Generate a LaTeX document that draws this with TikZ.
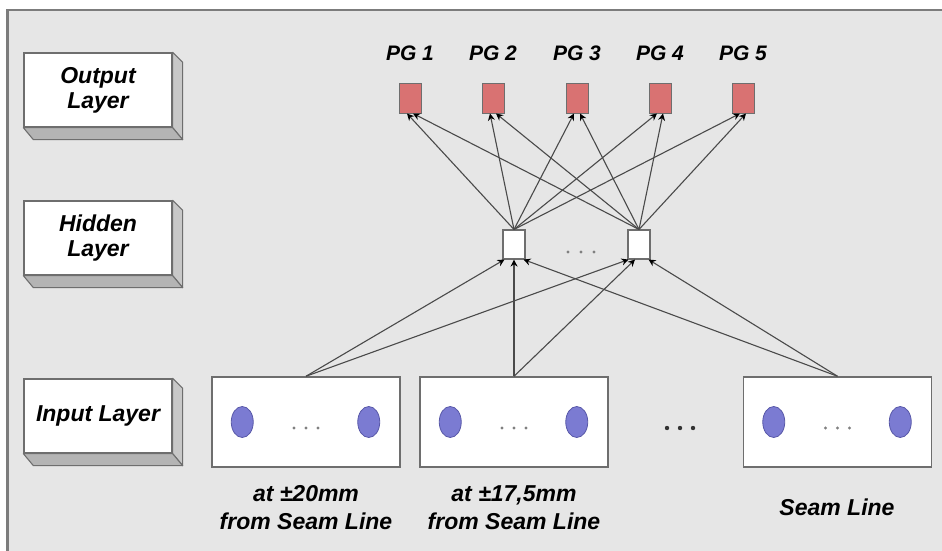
\documentclass[tikz,border=0pt]{standalone}
\usepackage{fontspec}
\setmainfont{Liberation Sans}
\usetikzlibrary{arrows.meta,shapes.geometric}
\definecolor{panel}{HTML}{E6E6E6}
\definecolor{edgegray}{HTML}{6E6E6E}
\definecolor{sidegray}{HTML}{C8C8C8}
\definecolor{pgred}{HTML}{D97272}
\definecolor{dotblue}{HTML}{7B7BD2}
\definecolor{dotedge}{HTML}{5858A8}
\definecolor{wire}{HTML}{4A4A4A}
\tikzset{
  lbl/.style={font=\fontsize{23}{25}\selectfont\bfseries\itshape, align=center, text=black},
  pglbl/.style={font=\fontsize{21}{24}\selectfont\bfseries\itshape, text=black},
  caplbl/.style={lbl, font=\fontsize{23}{28}\selectfont\bfseries\itshape},
  layerbox/.style={draw=edgegray, line width=1.3pt, fill=white, minimum width=148pt, minimum height=74pt, inner sep=0pt, lbl},
  outunit/.style={draw=edgegray, line width=1pt, fill=pgred, minimum width=22pt, minimum height=30pt, inner sep=0pt},
  hidunit/.style={draw=edgegray, line width=1.1pt, fill=white, minimum width=22pt, minimum height=29pt, inner sep=0pt},
  inbox/.style={draw=edgegray, line width=1.5pt, fill=white, minimum width=188pt, minimum height=90pt, inner sep=0pt},
  neuron/.style={ellipse, draw=dotedge, line width=0.8pt, fill=dotblue, minimum width=22pt, minimum height=31pt, inner sep=0pt},
  conn/.style={draw=wire, line width=1.1pt, -{Stealth[length=7pt,width=7pt,color=black]}},
}
\newcommand{\layerside}[1]{%
  \fill[sidegray, draw=edgegray, line width=1.1pt, line join=round]
    (#1.north east) -- ++(10,10) -- ([shift={(10,12)}]#1.south east) -- (#1.south east) -- cycle;
  \fill[sidegray!90!black, draw=edgegray, line width=1.1pt, line join=round]
    (#1.south west) -- (#1.south east) -- ++(10,12) -- ([shift={(10,12)}]#1.south west) -- cycle;
}
\begin{document}
\begin{tikzpicture}[x=1pt, y=-1pt]
  % canvas and framed panel
  \fill[white] (0,0) rectangle (942,551);
  \useasboundingbox (0,0) rectangle (942,551);
  \fill[panel] (6,9) rectangle (942,551);
  \draw[edgegray!90, line width=2.5pt] (7.25,551) -- (7.25,10.25) -- (942,10.25);

  % layer captions on the left
  \node[layerbox] (lout) at (98,90) {Output\\Layer};
  \node[layerbox] (lhid) at (98,238) {Hidden\\Layer};
  \node[layerbox] (lin)  at (98,416) {Input Layer};
  \layerside{lout}
  \layerside{lhid}
  \layerside{lin}

  % output units
  \foreach \i/\x in {1/410,2/493,3/577,4/660,5/743}{
    \node[outunit] (p\i) at (\x,98) {};
    \node[pglbl] (pl\i) at (\x,53) {PG \i};
  }

  % hidden units
  \node[hidunit] (h1) at (514,244.5) {};
  \node[hidunit] (h2) at (639,244.5) {};
  \foreach \x [count=\k] in {568,581,594}
    \fill[gray] (\x,252) circle (1.6) coordinate (hd\k);

  % input groups
  \node[inbox] (i1) at (306,422) {};
  \node[inbox] (i2) at (514,422) {};
  \node[inbox] (i3) at (837.5,422) {};
  \foreach \b in {i1,i2,i3}{
    \node[neuron] (\b a) at ([xshift=31pt]\b.west) {};
    \node[neuron] (\b b) at ([xshift=-32pt]\b.east) {};
    \foreach \dx in {-12,0,12}
      \fill[gray] ([shift={(\dx,6)}]\b.center) circle (1.6);
  }
  \foreach \x in {667,680,693}
    \fill[black!80] (\x,428) circle (2.2);

  % captions under the input groups
  \node[caplbl] (c1) at (306,508) {at ±20mm\\from Seam Line};
  \node[caplbl] (c2) at (514,508) {at ±17,5mm\\from Seam Line};
  \node[caplbl] (c3) at (837,507) {Seam Line};

  % hidden -> output
  \foreach \i in {1,...,5}{
    \draw[conn] (h1.north) -- ([xshift=-3pt]p\i.south);
    \draw[conn] (h2.north) -- ([xshift=3pt]p\i.south);
  }

  % input -> hidden
  \draw[conn] (i1.north) -- ([xshift=2pt]h1.south west);
  \draw[conn] (i1.north) -- ([xshift=1pt]h2.south west);
  \draw[conn] (i2.north) -- (h1.south);
  \draw[conn] (i2.north) -- ([xshift=-4pt]h2.south);
  \draw[conn] (i3.north) -- ([xshift=-2pt]h1.south east);
  \draw[conn] (i3.north) -- ([xshift=-2pt]h2.south east);
\end{tikzpicture}
\end{document}
